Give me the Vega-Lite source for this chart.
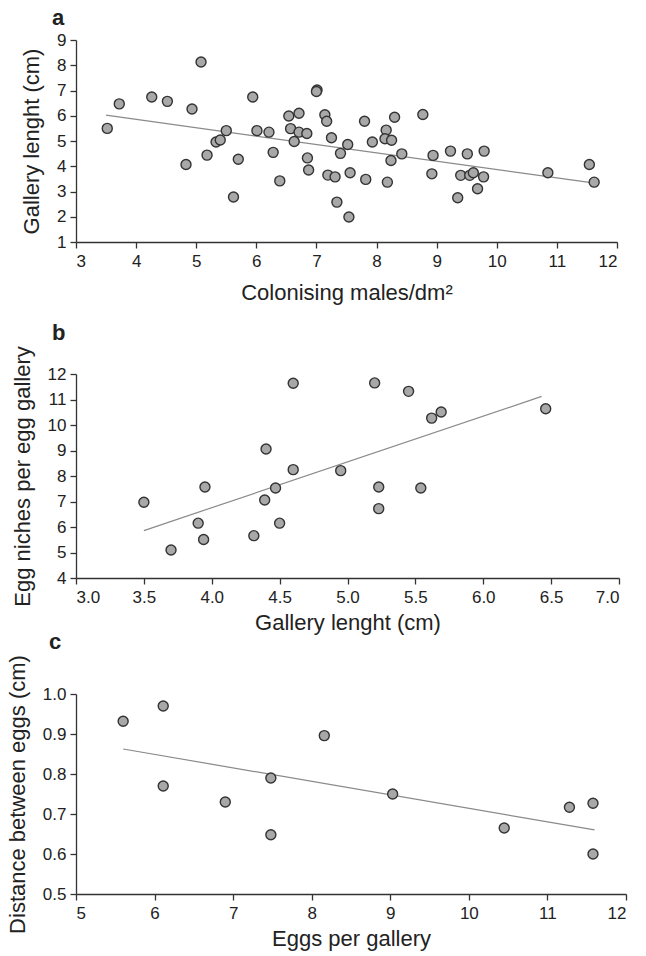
{
  "$schema": "https://vega.github.io/schema/vega-lite/v6.json",
  "background": "white",
  "autosize": {"type": "pad"},
  "padding": {"left": 6, "top": 7, "right": 10, "bottom": 5},
  "datasets": {
    "a": [
      {"x": 3.52, "y": 5.5}, {"x": 3.72, "y": 6.47}, {"x": 4.26, "y": 6.74}, {"x": 4.52, "y": 6.57},
      {"x": 5.08, "y": 8.13}, {"x": 4.93, "y": 6.27}, {"x": 4.83, "y": 4.07}, {"x": 5.18, "y": 4.44},
      {"x": 5.33, "y": 4.96}, {"x": 5.4, "y": 5.04}, {"x": 5.5, "y": 5.41}, {"x": 5.7, "y": 4.28},
      {"x": 5.62, "y": 2.78}, {"x": 5.94, "y": 6.74}, {"x": 6.01, "y": 5.41}, {"x": 6.21, "y": 5.35},
      {"x": 6.28, "y": 4.55}, {"x": 6.39, "y": 3.42}, {"x": 6.54, "y": 5.99}, {"x": 6.57, "y": 5.49},
      {"x": 6.71, "y": 6.1}, {"x": 6.71, "y": 5.35}, {"x": 6.63, "y": 4.98}, {"x": 6.84, "y": 5.3},
      {"x": 6.85, "y": 4.33}, {"x": 6.87, "y": 3.85}, {"x": 7.01, "y": 7.02}, {"x": 7.0, "y": 6.96},
      {"x": 7.14, "y": 6.04}, {"x": 7.17, "y": 5.78}, {"x": 7.19, "y": 3.65}, {"x": 7.25, "y": 5.13},
      {"x": 7.31, "y": 3.58}, {"x": 7.34, "y": 2.58}, {"x": 7.4, "y": 4.51}, {"x": 7.52, "y": 4.86},
      {"x": 7.56, "y": 3.74}, {"x": 7.54, "y": 1.99}, {"x": 7.8, "y": 5.78}, {"x": 7.82, "y": 3.48},
      {"x": 7.93, "y": 4.96}, {"x": 8.16, "y": 5.43}, {"x": 8.14, "y": 5.09}, {"x": 8.25, "y": 5.03},
      {"x": 8.3, "y": 5.94}, {"x": 8.24, "y": 4.23}, {"x": 8.18, "y": 3.37}, {"x": 8.42, "y": 4.49},
      {"x": 8.77, "y": 6.05}, {"x": 8.94, "y": 4.43}, {"x": 8.92, "y": 3.7}, {"x": 9.23, "y": 4.6},
      {"x": 9.35, "y": 2.75}, {"x": 9.51, "y": 4.49}, {"x": 9.4, "y": 3.64}, {"x": 9.55, "y": 3.64},
      {"x": 9.61, "y": 3.74}, {"x": 9.68, "y": 3.11}, {"x": 9.79, "y": 4.6}, {"x": 9.78, "y": 3.58},
      {"x": 10.85, "y": 3.74}, {"x": 11.54, "y": 4.07}, {"x": 11.62, "y": 3.37}
    ],
    "aline": [{"x": 3.5, "y": 6.022}, {"x": 11.6, "y": 3.338}],
    "b": [
      {"x": 3.5, "y": 6.97}, {"x": 3.7, "y": 5.1}, {"x": 3.9, "y": 6.15}, {"x": 3.94, "y": 5.51},
      {"x": 3.95, "y": 7.57}, {"x": 4.31, "y": 5.66}, {"x": 4.39, "y": 7.06}, {"x": 4.4, "y": 9.06},
      {"x": 4.47, "y": 7.53}, {"x": 4.5, "y": 6.15}, {"x": 4.6, "y": 11.64}, {"x": 4.6, "y": 8.25},
      {"x": 4.95, "y": 8.21}, {"x": 5.2, "y": 11.65}, {"x": 5.23, "y": 7.57}, {"x": 5.23, "y": 6.72},
      {"x": 5.45, "y": 11.32}, {"x": 5.54, "y": 7.53}, {"x": 5.62, "y": 10.27}, {"x": 5.69, "y": 10.51},
      {"x": 6.46, "y": 10.64}
    ],
    "bline": [{"x": 3.5, "y": 5.86}, {"x": 6.43, "y": 11.12}],
    "c": [
      {"x": 5.6, "y": 0.932}, {"x": 6.11, "y": 0.97}, {"x": 6.11, "y": 0.77}, {"x": 6.9, "y": 0.73},
      {"x": 7.48, "y": 0.79}, {"x": 7.48, "y": 0.648}, {"x": 8.16, "y": 0.896}, {"x": 9.03, "y": 0.75},
      {"x": 10.45, "y": 0.665}, {"x": 11.28, "y": 0.717}, {"x": 11.58, "y": 0.727}, {"x": 11.58, "y": 0.6}
    ],
    "cline": [{"x": 5.6, "y": 0.8625}, {"x": 11.6, "y": 0.6603}],
    "one": [{"k": 1}]
  },
  "config": {
    "view": {"stroke": null},
    "font": "Liberation Sans",
    "axis": {
      "grid": false,
      "domainColor": "#333",
      "domainWidth": 1.3,
      "tickColor": "#333",
      "tickWidth": 1.3,
      "tickSize": 6,
      "labelFont": "Liberation Sans",
      "labelFontSize": 17,
      "labelColor": "#222",
      "labelPadding": 4,
      "labelOverlap": false,
      "labelBound": false,
      "titleFont": "Liberation Sans",
      "titleFontSize": 22,
      "titleFontWeight": "normal",
      "titleColor": "#222"
    },
    "axisY": {"titlePadding": 13},
    "axisX": {"titlePadding": 7, "labelPadding": 5},
    "title": {"font": "Liberation Sans", "fontSize": 22, "fontWeight": "bold", "color": "#222", "anchor": "start", "frame": "group"}
  },
  "spacing": 132,
  "bounds": "flush",
  "vconcat": [
    {
      "width": 541,
      "height": 202,
      "title": {"text": "a", "dx": -24, "offset": 1},
      "encoding": {
        "x": {"field": "x", "type": "quantitative", "scale": {"domain": [3, 12], "nice": false, "zero": false}, "axis": {"title": "Colonising males/dm²", "titlePadding": 13, "values": [3, 4, 5, 6, 7, 8, 9, 10, 11, 12], "format": "d", "labelOverlap": false}},
        "y": {"field": "y", "type": "quantitative", "scale": {"domain": [1, 9], "nice": false, "zero": false}, "axis": {"title": "Gallery lenght (cm)", "values": [1, 2, 3, 4, 5, 6, 7, 8, 9], "tickCount": 9, "format": "d", "labelOverlap": false}}
      },
      "layer": [
        {
          "data": {"name": "aline"},
          "mark": {"type": "line", "color": "#8a8a8a", "strokeWidth": 1.2}
        },
        {
          "data": {"name": "a"},
          "mark": {"type": "circle", "fill": "#a8a8a8", "stroke": "#333", "strokeWidth": 1.4, "size": 100, "opacity": 1}
        },
        {
          "data": {"name": "one"},
          "mark": {"type": "text", "align": "right", "baseline": "alphabetic", "fontSize": 16.5, "color": "#222"},
          "encoding": {"x": {"datum": 11.82, "type": "quantitative"}, "y": {"datum": 8.55, "type": "quantitative"}, "text": {"value": "y = - 0.3314x + 7.1821"}}
        },
        {
          "data": {"name": "one"},
          "mark": {"type": "text", "align": "right", "baseline": "alphabetic", "fontSize": 16.5, "color": "#222"},
          "encoding": {"x": {"datum": 11.84, "type": "quantitative"}, "y": {"datum": 7.56, "type": "quantitative"}, "text": {"value": "R²= 0.23"}}
        }
      ]
    },
    {
      "spacing": 116,
      "bounds": "flush",
      "vconcat": [
        {
          "width": 543,
          "height": 204,
          "title": {"text": "b", "dx": -24, "offset": 1},
          "encoding": {
            "x": {"field": "x", "type": "quantitative", "scale": {"domain": [3, 7], "nice": false, "zero": false}, "axis": {"title": "Gallery lenght (cm)", "values": [3, 3.5, 4, 4.5, 5, 5.5, 6, 6.5, 7], "format": ".1f", "labelOverlap": false}},
            "y": {"field": "y", "type": "quantitative", "scale": {"domain": [4, 12], "nice": false, "zero": false}, "axis": {"title": "Egg niches per egg gallery", "values": [4, 5, 6, 7, 8, 9, 10, 11, 12], "tickCount": 9, "format": "d", "labelOverlap": false}}
          },
          "layer": [
            {
              "data": {"name": "bline"},
              "mark": {"type": "line", "color": "#8a8a8a", "strokeWidth": 1.2}
            },
            {
              "data": {"name": "b"},
              "mark": {"type": "circle", "fill": "#a8a8a8", "stroke": "#333", "strokeWidth": 1.4, "size": 100, "opacity": 1}
            },
            {
              "data": {"name": "one"},
              "mark": {"type": "text", "align": "right", "baseline": "alphabetic", "fontSize": 16.5, "color": "#222"},
              "encoding": {"x": {"datum": 6.99, "type": "quantitative"}, "y": {"datum": 12.1, "type": "quantitative"}, "text": {"value": "y = 1.7939x - 0.4186"}}
            },
            {
              "data": {"name": "one"},
              "mark": {"type": "text", "align": "right", "baseline": "alphabetic", "fontSize": 16.5, "color": "#222"},
              "encoding": {"x": {"datum": 6.99, "type": "quantitative"}, "y": {"datum": 11.2, "type": "quantitative"}, "text": {"value": "R² = 0.42"}}
            }
          ]
        },
        {
          "width": 550,
          "height": 200,
          "title": {"text": "c", "dx": -27, "offset": 1},
          "encoding": {
            "x": {"field": "x", "type": "quantitative", "scale": {"domain": [5, 12], "nice": false, "zero": false}, "axis": {"title": "Eggs per gallery", "values": [5, 6, 7, 8, 9, 10, 11, 12], "format": "d", "labelOverlap": false}},
            "y": {"field": "y", "type": "quantitative", "scale": {"domain": [0.5, 1.0], "nice": false, "zero": false}, "axis": {"title": "Distance between eggs (cm)", "values": [0.5, 0.6, 0.7, 0.8, 0.9, 1.0], "tickCount": 6, "format": ".1f", "labelOverlap": false}}
          },
          "layer": [
            {
              "data": {"name": "cline"},
              "mark": {"type": "line", "color": "#8a8a8a", "strokeWidth": 1.2}
            },
            {
              "data": {"name": "c"},
              "mark": {"type": "circle", "fill": "#a8a8a8", "stroke": "#333", "strokeWidth": 1.4, "size": 100, "opacity": 1}
            },
            {
              "data": {"name": "one"},
              "mark": {"type": "text", "align": "right", "baseline": "alphabetic", "fontSize": 16.5, "color": "#222"},
              "encoding": {"x": {"datum": 11.94, "type": "quantitative"}, "y": {"datum": 1.004, "type": "quantitative"}, "text": {"value": "y = - 0.0337x + 1.0512"}}
            },
            {
              "data": {"name": "one"},
              "mark": {"type": "text", "align": "right", "baseline": "alphabetic", "fontSize": 16.5, "color": "#222"},
              "encoding": {"x": {"datum": 11.94, "type": "quantitative"}, "y": {"datum": 0.946, "type": "quantitative"}, "text": {"value": "R² = 0.43"}}
            }
          ]
        }
      ]
    }
  ]
}
